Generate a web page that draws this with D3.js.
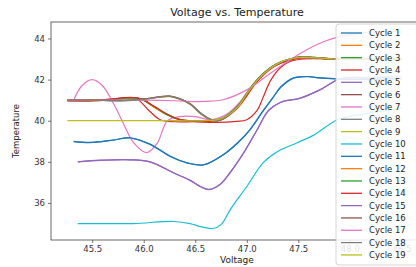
<!DOCTYPE html>
<html>
<head>
<meta charset="utf-8">
<script src="https://cdn.jsdelivr.net/npm/d3@7"></script>
<style>
  body { margin: 0; background: #fff; }
  svg { display: block; font-family: "DejaVu Sans", sans-serif; }
</style>
</head>
<body>
<div id="chart"></div>
<script>
// values, [voltage, temperature]
var cycle1 = [[45.32,38.98],[45.48,38.93],[45.7,39.05],[45.87,39.17],[46.06,38.85],[46.26,38.25],[46.42,37.95],[46.58,37.86],[46.77,38.35],[46.91,38.93],[47.03,39.56],[47.16,40.5],[47.25,41.1],[47.33,41.65],[47.45,42.08],[47.59,42.15],[47.71,42.08],[47.91,42.03],[48.2,42.02],[48.5,42.05]];
var cycle2 = [[45.26,41.0],[45.5,40.97],[45.7,41.03],[45.87,41.1],[45.98,41.04],[46.1,40.66],[46.22,40.3],[46.35,40.05],[46.5,39.98],[46.65,40.0],[46.77,40.12],[46.91,40.68],[47.0,41.28],[47.1,41.95],[47.23,42.55],[47.33,42.82],[47.42,42.96],[47.53,43.07],[47.65,43.05],[47.84,43.0],[48.1,43.0],[48.5,43.0]];
var cycle3 = [[45.26,40.98],[45.5,40.98],[45.7,41.02],[45.87,41.12],[45.97,41.06],[46.1,40.68],[46.22,40.3],[46.35,40.06],[46.5,40.0],[46.65,40.0],[46.77,40.15],[46.91,40.7],[47.0,41.3],[47.1,41.97],[47.23,42.57],[47.33,42.83],[47.42,42.98],[47.52,43.08],[47.65,43.06],[47.84,43.0],[48.1,43.0],[48.5,43.0]];
var cycle4 = [[45.26,40.97],[45.5,41.0],[45.7,41.05],[45.85,41.12],[45.95,41.0],[46.05,40.5],[46.16,40.05],[46.3,39.95],[46.5,39.95],[46.7,39.92],[46.9,39.97],[47.0,40.05],[47.1,40.5],[47.16,41.15],[47.23,41.95],[47.33,42.6],[47.42,42.88],[47.55,43.0],[47.84,43.0],[48.1,43.0],[48.5,43.0]];
var cycle5 = [[45.36,38.0],[45.58,38.08],[45.87,38.1],[46.06,38.0],[46.29,37.47],[46.45,37.1],[46.55,36.8],[46.63,36.65],[46.74,36.9],[46.84,37.5],[46.97,38.45],[47.1,39.56],[47.21,40.5],[47.33,40.9],[47.52,41.1],[47.71,41.5],[47.91,42.05],[48.2,42.1],[48.5,42.15]];
var cycle6 = [[45.26,41.0],[45.5,41.0],[45.8,40.98],[46.0,41.05],[46.15,41.15],[46.25,41.18],[46.35,41.05],[46.45,40.8],[46.55,40.35],[46.65,40.05],[46.72,40.0],[46.8,40.2],[46.91,40.7],[47.0,41.35],[47.1,42.0],[47.23,42.58],[47.33,42.85],[47.42,43.0],[47.52,43.1],[47.65,43.07],[47.84,43.0],[48.1,43.0],[48.5,43.0]];
var cycle7 = [[45.32,41.0],[45.4,41.7],[45.5,42.0],[45.6,41.7],[45.7,40.9],[45.79,40.0],[45.9,38.95],[46.03,38.45],[46.13,38.9],[46.23,40.0],[46.35,40.2],[46.5,40.2],[46.65,40.05],[46.8,40.3],[46.95,41.0],[47.1,41.9],[47.23,42.5],[47.4,42.95],[47.6,43.05],[47.84,43.0],[48.1,43.0],[48.5,43.0]];
var cycle8 = [[45.26,41.02],[45.5,41.0],[45.8,40.97],[46.0,41.04],[46.15,41.14],[46.25,41.2],[46.35,41.08],[46.46,40.8],[46.56,40.35],[46.66,40.05],[46.73,40.0],[46.81,40.2],[46.92,40.72],[47.01,41.38],[47.11,42.02],[47.24,42.6],[47.34,42.86],[47.43,43.0],[47.53,43.1],[47.66,43.07],[47.84,43.0],[48.1,43.0],[48.5,43.0]];
var cycle9 = [[45.26,41.0],[45.5,41.0],[45.8,40.99],[46.0,41.05],[46.15,41.14],[46.25,41.17],[46.35,41.05],[46.45,40.8],[46.55,40.34],[46.65,40.04],[46.72,40.0],[46.8,40.2],[46.91,40.71],[47.0,41.36],[47.1,42.0],[47.23,42.59],[47.33,42.86],[47.42,43.0],[47.52,43.1],[47.65,43.08],[47.84,43.02],[48.1,43.0],[48.5,43.0]];
var cycle10 = [[45.36,35.0],[45.6,35.0],[45.9,35.0],[46.29,35.1],[46.45,35.0],[46.55,34.85],[46.67,34.76],[46.75,34.95],[46.84,35.68],[47.0,36.8],[47.16,37.96],[47.3,38.5],[47.49,38.93],[47.65,39.3],[47.88,40.05],[48.1,40.3],[48.5,40.6]];
var cycle11 = [[45.32,39.0],[45.48,38.95],[45.7,39.06],[45.87,39.16],[46.06,38.87],[46.26,38.27],[46.42,37.95],[46.58,37.85],[46.77,38.33],[46.91,38.9],[47.03,39.55],[47.16,40.48],[47.25,41.1],[47.33,41.62],[47.45,42.06],[47.59,42.14],[47.71,42.08],[47.91,42.02],[48.2,42.02],[48.5,42.05]];
var cycle12 = [[45.26,41.0],[45.5,40.96],[45.7,41.02],[45.87,41.1],[45.98,41.05],[46.1,40.67],[46.22,40.32],[46.35,40.07],[46.5,39.98],[46.65,39.99],[46.77,40.12],[46.91,40.66],[47.0,41.26],[47.1,41.93],[47.23,42.54],[47.33,42.81],[47.42,42.96],[47.53,43.06],[47.65,43.05],[47.84,43.0],[48.1,43.0],[48.5,43.0]];
var cycle13 = [[45.26,40.99],[45.5,40.99],[45.7,41.02],[45.87,41.11],[45.97,41.06],[46.1,40.7],[46.22,40.32],[46.35,40.06],[46.5,40.0],[46.65,40.0],[46.77,40.14],[46.91,40.69],[47.0,41.29],[47.1,41.96],[47.23,42.56],[47.33,42.83],[47.42,42.97],[47.52,43.08],[47.65,43.06],[47.84,43.0],[48.1,43.0],[48.5,43.0]];
var cycle14 = [[45.26,40.96],[45.5,40.98],[45.7,41.06],[45.87,41.14],[45.98,41.06],[46.1,40.7],[46.22,40.34],[46.35,40.05],[46.5,39.96],[46.65,39.98],[46.77,40.1],[46.91,40.62],[47.0,41.2],[47.1,41.9],[47.23,42.52],[47.33,42.8],[47.42,42.95],[47.53,43.05],[47.65,43.05],[47.84,43.0],[48.1,43.0],[48.5,43.0]];
var cycle15 = [[45.36,38.0],[45.58,38.07],[45.87,38.1],[46.06,38.0],[46.29,37.46],[46.45,37.1],[46.55,36.8],[46.63,36.66],[46.74,36.9],[46.84,37.48],[46.97,38.43],[47.1,39.55],[47.21,40.48],[47.33,40.9],[47.52,41.1],[47.71,41.5],[47.91,42.04],[48.2,42.1],[48.5,42.15]];
var cycle16 = [[45.26,41.0],[45.5,41.02],[45.8,40.99],[46.0,41.06],[46.15,41.16],[46.25,41.2],[46.35,41.06],[46.45,40.82],[46.55,40.37],[46.65,40.06],[46.72,40.0],[46.8,40.18],[46.91,40.68],[47.0,41.33],[47.1,41.98],[47.23,42.57],[47.33,42.85],[47.42,43.0],[47.52,43.1],[47.65,43.08],[47.84,43.01],[48.1,43.0],[48.5,43.0]];
var cycle17 = [[45.26,41.0],[45.6,41.0],[46.0,41.0],[46.3,40.97],[46.5,40.93],[46.65,40.95],[46.77,41.02],[47.0,41.5],[47.2,42.2],[47.42,42.96],[47.6,43.5],[47.75,43.85],[47.91,44.1],[48.1,44.25],[48.3,44.35],[48.5,44.3]];
var cycle18 = [[45.26,41.01],[45.5,41.0],[45.8,40.98],[46.0,41.04],[46.15,41.15],[46.25,41.19],[46.35,41.07],[46.45,40.81],[46.55,40.36],[46.65,40.05],[46.72,40.0],[46.8,40.19],[46.91,40.69],[47.0,41.34],[47.1,41.99],[47.23,42.58],[47.33,42.86],[47.42,43.01],[47.52,43.11],[47.65,43.08],[47.84,43.0],[48.1,43.0],[48.5,43.0]];
var cycle19 = [[45.26,40.0],[45.8,40.0],[46.3,40.0],[46.6,40.0],[46.75,40.1],[46.91,40.65],[47.0,41.3],[47.1,41.95],[47.23,42.55],[47.33,42.85],[47.42,43.0],[47.55,43.08],[47.84,43.0],[48.1,43.0],[48.5,43.0]];

var cycles = [cycle1, cycle2, cycle3, cycle4, cycle5, cycle6, cycle7, cycle8, cycle9, cycle10,
              cycle11, cycle12, cycle13, cycle14, cycle15, cycle16, cycle17, cycle18, cycle19];
var cycleNames = cycles.map(function (d, i) { return 'Cycle ' + (i + 1); });

var xTicks = [45.5, 46.0, 46.5, 47.0, 47.5, 48.0, 48.5];
var yTicks = [36, 38, 40, 42, 44];

var width = 416, height = 267;
var margin = {left: 51, top: 22, right: 423, bottom: 240};

var svg = d3.select('#chart').append('svg')
    .attr('width', width)
    .attr('height', height);

var x = d3.scaleLinear().domain([45.1, 48.71]).range([margin.left, margin.right]);
var y = d3.scaleLinear().domain([34.2, 44.8]).range([margin.bottom, margin.top]);
var color = d3.scaleOrdinal(d3.schemeCategory10);

// plot lines
var line = d3.line()
    .x(function (d) { return x(d[0]); })
    .y(function (d) { return y(d[1]); })
    .curve(d3.curveCatmullRom.alpha(0.5));

svg.append('g')
    .selectAll('path')
    .data(cycles)
    .join('path')
    .attr('d', line)
    .attr('fill', 'none')
    .attr('stroke', function (d, i) { return color(i % 10); })
    .attr('stroke-width', 1.2)
    .attr('stroke-linejoin', 'round');

// axes
var xAxis = svg.append('g')
    .attr('transform', 'translate(0,' + margin.bottom + ')')
    .call(d3.axisBottom(x).tickValues(xTicks).tickFormat(d3.format('.1f')).tickSize(3).tickPadding(3));
var yAxis = svg.append('g')
    .attr('transform', 'translate(' + margin.left + ',0)')
    .call(d3.axisLeft(y).tickValues(yTicks).tickFormat(d3.format('d')).tickSize(3).tickPadding(3));

[xAxis, yAxis].forEach(function (ax) {
    ax.select('.domain').remove();
    ax.selectAll('line').attr('stroke', '#555').attr('stroke-width', 0.8);
    ax.selectAll('text').attr('font-size', 8.5).attr('fill', '#333')
        .attr('font-family', '"DejaVu Sans", sans-serif');
});

// spines
svg.append('rect')
    .attr('x', margin.left)
    .attr('y', margin.top)
    .attr('width', margin.right - margin.left)
    .attr('height', margin.bottom - margin.top)
    .attr('fill', 'none')
    .attr('stroke', '#444')
    .attr('stroke-width', 0.8);

// title and labels
svg.append('text')
    .attr('x', (margin.left + margin.right) / 2)
    .attr('y', 16)
    .attr('text-anchor', 'middle')
    .attr('font-size', 11)
    .attr('fill', '#222')
    .text('Voltage vs. Temperature');

svg.append('text')
    .attr('x', (margin.left + margin.right) / 2)
    .attr('y', 263)
    .attr('text-anchor', 'middle')
    .attr('font-size', 9)
    .attr('fill', '#222')
    .text('Voltage');

svg.append('text')
    .attr('transform', 'translate(19,' + ((margin.top + margin.bottom) / 2) + ') rotate(-90)')
    .attr('text-anchor', 'middle')
    .attr('font-size', 8.5)
    .attr('fill', '#222')
    .text('Temperature');

// legend (semi-transparent, ticks behind it show through)
var legend = svg.append('g').attr('transform', 'translate(336,24)');
legend.append('rect')
    .attr('width', 86)
    .attr('height', 241)
    .attr('rx', 3)
    .attr('fill', '#fff')
    .attr('fill-opacity', 0.85)
    .attr('stroke', '#ccc')
    .attr('stroke-width', 0.8);

var rowH = 12.33;
var item = legend.selectAll('g.item')
    .data(cycleNames)
    .join('g')
    .attr('class', 'item')
    .attr('transform', function (d, i) { return 'translate(0,' + (9 + i * rowH) + ')'; });

item.append('line')
    .attr('x1', 5).attr('x2', 26)
    .attr('stroke', function (d, i) { return color(i % 10); })
    .attr('stroke-width', 1.3);

item.append('text')
    .attr('x', 33)
    .attr('dy', '0.35em')
    .attr('font-size', 8.5)
    .attr('fill', '#222')
    .text(function (d) { return d; });
</script>
</body>
</html>
